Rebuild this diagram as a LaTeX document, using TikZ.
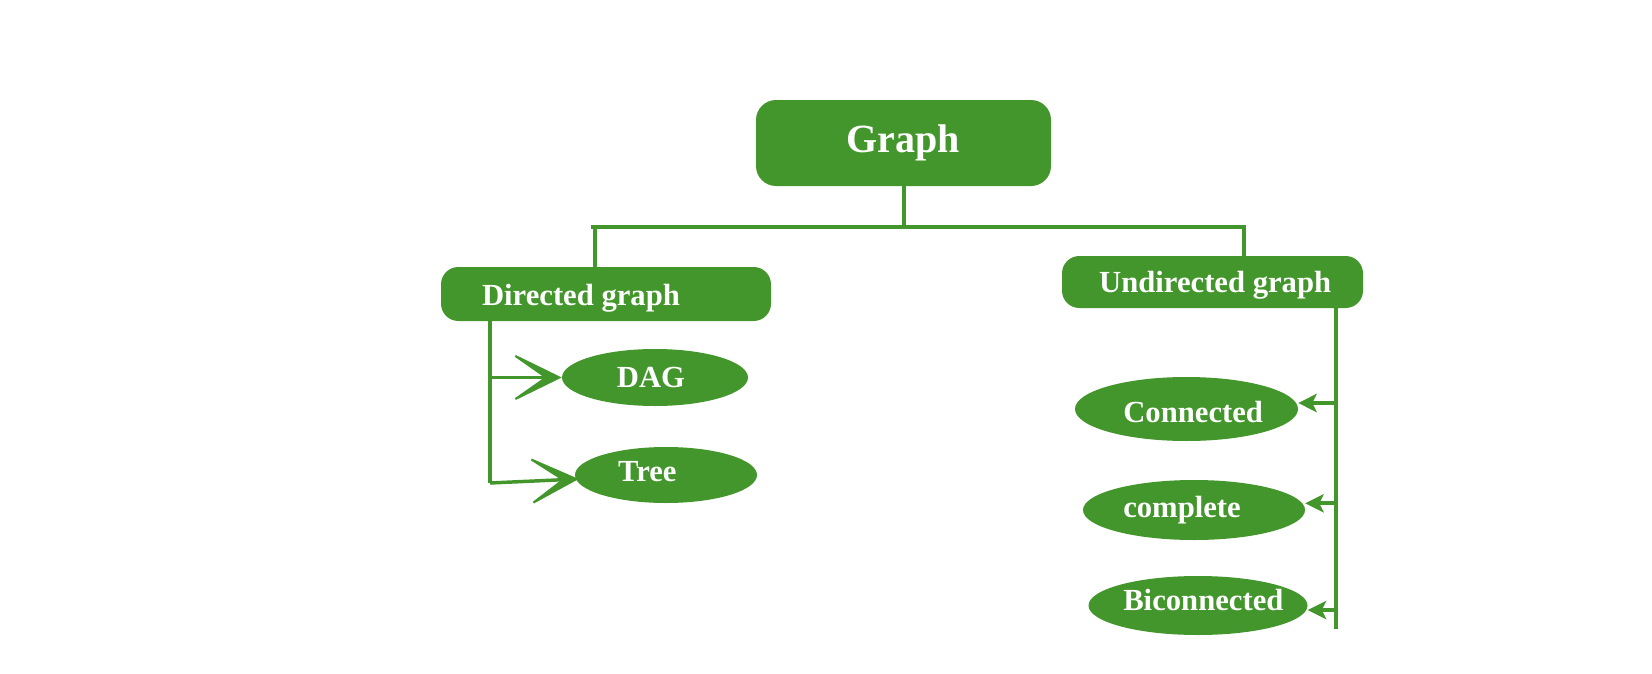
\documentclass[tikz,border=0pt]{standalone}
\usepackage{fontspec}
\setmainfont{Liberation Serif}
\usetikzlibrary{shapes.geometric,arrows.meta}
\definecolor{gg}{RGB}{67,150,43}
\tikzset{
  box/.style={fill=gg, draw=none, rounded corners=15pt, inner sep=0pt},
  oval/.style={ellipse, fill=gg, draw=none, inner sep=0pt},
  txt/.style={text=white, font=\bfseries\fontsize{23}{27}\selectfont},
  bigtxt/.style={text=white, font=\bfseries\fontsize{30}{36}\selectfont},
  conn/.style={draw=gg, line width=3pt},
  chev/.style={draw=gg, line width=2.6pt, -{Stealth[length=43pt,width=42pt,inset=30pt,fill=gg,line width=1.5pt]}},
  smallarr/.style={draw=gg, line width=2.8pt, -{Stealth[length=14pt,width=14pt,inset=3.5pt,fill=gg,line width=0.8pt]}},
}
\begin{document}
\begin{tikzpicture}[x=0.75pt,y=-0.75pt]
\path[use as bounding box, fill=white] (0,0) rectangle (1652,674);

\node[box, minimum width=221.25pt, minimum height=64.5pt, label={[bigtxt]center:Graph}] (graph) at (903.5,143) {};
\node[box, rounded corners=13pt, minimum width=247.5pt, minimum height=40.5pt, label={[txt, xshift=-18.75pt, yshift=-3pt]center:Directed graph}] (dir) at (606,294) {};
\node[box, rounded corners=13pt, minimum width=225.75pt, minimum height=39pt, label={[txt, xshift=2pt, yshift=-2.5pt]center:Undirected graph}] (und) at (1212.5,282) {};

\node[oval, minimum width=139.5pt, minimum height=42.75pt, label={[txt, xshift=-3pt]center:DAG}] (dag) at (655,377.5) {};
\node[oval, minimum width=136.5pt, minimum height=42pt, label={[txt, xshift=-14pt, yshift=2.5pt]center:Tree}] (tree) at (666,475) {};
\node[oval, minimum width=167.25pt, minimum height=48pt, label={[txt, xshift=5pt, yshift=-2.5pt]center:Connected}] (con) at (1186.5,409) {};
\node[oval, minimum width=166.5pt, minimum height=45pt, label={[txt, xshift=-9pt]center:complete}] (com) at (1194,510) {};
\node[oval, minimum width=164.25pt, minimum height=44.25pt, label={[txt, xshift=4pt, yshift=4pt]center:Biconnected}] (bic) at (1198,605.5) {};

% tree connectors
\coordinate (hl) at (591,227);
\coordinate (hr) at (1246,227);
\coordinate (dl) at (595,227);
\coordinate (dr) at (1244,227);
\draw[conn] (graph.south) -- (graph.south |- hl);
\draw[conn] (hl) -- (hr);
\draw[conn] (dl) -- (dl |- dir.north);
\draw[conn] (dr) -- (dr |- und.north);

% directed branch
\coordinate (lvb) at (490,483);
\draw[conn] (lvb |- dir.south) -- (lvb);
\draw[chev] (lvb |- dag.west) -- (dag.west);
\coordinate (tw) at ([xshift=3pt,yshift=-3pt]tree.west);
\draw[chev] (lvb) -- (tw);

% undirected branch
\coordinate (rvb) at (1336,629);
\draw[conn] (rvb |- und.south) -- (rvb);
\coordinate (ca) at ([yshift=4.5pt]con.east);
\coordinate (cb) at ([yshift=5pt]com.east);
\coordinate (cc) at ([yshift=-3.4pt]bic.east);
\draw[smallarr] (rvb |- ca) -- (ca);
\draw[smallarr] (rvb |- cb) -- (cb);
\draw[smallarr] (rvb |- cc) -- (cc);
\end{tikzpicture}
\end{document}
